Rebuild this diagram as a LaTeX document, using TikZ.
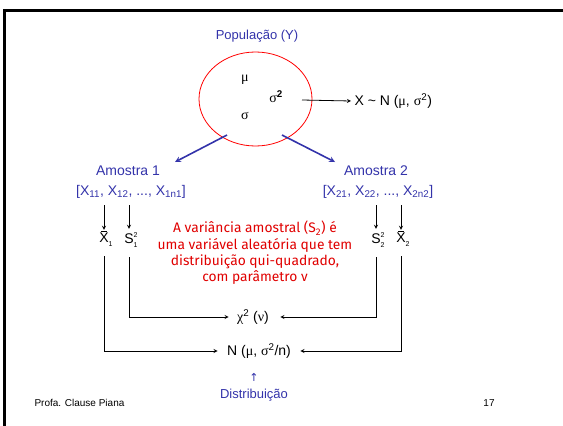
\documentclass[tikz,border=0pt]{standalone}
\usepackage{fontspec}
\setmainfont{Liberation Sans}
\newfontfamily\grk{Liberation Serif}
\newfontfamily\notefont{Fira Sans}
\newfontfamily\symfont{DejaVu Sans}
\usetikzlibrary{arrows,positioning,shapes}

\definecolor{popblue}{RGB}{51,51,170}
\definecolor{notered}{RGB}{224,0,0}

% X with a bar over it
\newcommand{\barX}{\ooalign{X\cr\hidewidth\raisebox{0.8em}{\rule{0.42em}{0.07em}}\hidewidth\cr}}
% stacked super- and subscript
\newcommand{\supsub}[2]{\rlap{\rlap{\raisebox{0.48em}{\scriptsize #1}}\raisebox{-0.26em}{\scriptsize #2}}}
\newcommand{\gk}[1]{{\grk #1}}

\begin{document}
\begin{tikzpicture}[x=1pt, y=-1pt, >=stealth,
    every node/.style={font=\fontsize{14}{16}\selectfont},
    bluetxt/.style={text=popblue},
    smalltxt/.style={font=\fontsize{13}{15}\selectfont},
    flow/.style={->, line width=0.8pt},
    sample/.style={->, line width=1.6pt, popblue}]
    \useasboundingbox (0,0) rectangle (563,426);
    \draw[line width=3pt] (4,426) -- (4,10) -- (563,10);

    % Population
    \node[bluetxt, smalltxt] (poplabel) at (257,36) {População (Y)};
    \node[draw=red, line width=0.8pt, ellipse, minimum width=113pt, minimum height=94pt] (pop) at (255.5,99) {};
    \node (mu) at (245,80) {\gk{μ}};
    \node (sig2) at (276,97) {\gk{σ}\textsuperscript{\textbf{2}}};
    \node (sig) at (245,116) {\gk{σ}};
    \node[anchor=west] (xn) at (351,101) {X \textasciitilde{} N (\gk{μ}, \gk{σ}\textsuperscript{2})};
    \coordinate (popr) at (302,100);
    \draw[flow] (popr) -- (xn.west);

    % Samples
    \node[bluetxt] (am1) at (128,171) {Amostra 1};
    \node[bluetxt] (list1) at (131,192) {[X\textsubscript{11}, X\textsubscript{12}, ..., X\textsubscript{1n1}]};
    \node[bluetxt] (am2) at (376,171) {Amostra 2};
    \node[bluetxt] (list2) at (378,192) {[X\textsubscript{21}, X\textsubscript{22}, ..., X\textsubscript{2n2}]};
    \coordinate (popl) at (227,135);
    \coordinate (popr2) at (282,135);
    \coordinate (am1in) at (175,162);
    \coordinate (am2in) at (335,162);
    \draw[sample] (popl) -- (am1in);
    \draw[sample] (popr2) -- (am2in);

    % Statistics
    \node (xb1) at (104,240) {\barX\rlap{\raisebox{-0.26em}{\scriptsize 1}}};
    \node (s1) at (129,240) {S\supsub{2}{1}};
    \node (s2) at (376,240) {S\supsub{2}{2}};
    \node (xb2) at (401,240) {\barX\rlap{\raisebox{-0.26em}{\scriptsize 2}}};
    \draw[flow, shorten <=3pt] (list1.south -| xb1) -- (xb1.north);
    \draw[flow, shorten <=3pt] (list1.south -| s1) -- (s1.north);
    \draw[flow, shorten <=3pt] (list2.south -| s2) -- (s2.north);
    \draw[flow, shorten <=3pt] (list2.south -| xb2) -- (xb2.north);

    \node[text=notered, align=center, font=\notefont\fontsize{13.8}{16.3}\selectfont] (note) at (255,253)
        {A variância amostral (S\textsubscript{2}) é\\uma variável aleatória que tem\\distribuição qui-quadrado,\\com parâmetro ν};

    % Distributions
    \node (chi) at (253,317) {\gk{χ}\textsuperscript{2} (\gk{ν})};
    \node (norm) at (259,351) {N (\gk{μ}, \gk{σ}\textsuperscript{2}/n)};
    \draw[flow, shorten <=6pt, shorten >=5pt] (s1.south) |- (chi.west);
    \draw[flow, shorten <=6pt, shorten >=8pt] (s2.south) |- (chi.east);
    \draw[flow, shorten <=6pt, shorten >=6pt] (xb1.south) |- (norm.west);
    \draw[flow, shorten <=6pt, shorten >=6pt] (xb2.south) |- (norm.east);

    \node[bluetxt, font=\symfont\fontsize{11}{13}\selectfont] (up) at (254,377) {↑};
    \node[bluetxt, smalltxt] (dist) at (254,395) {Distribuição};

    % Footer
    \node[anchor=west, font=\fontsize{10}{12}\selectfont] (author) at (31,403) {Profa. Clause Piana};
    \node[font=\fontsize{10}{12}\selectfont] (page) at (489,403) {17};
\end{tikzpicture}
\end{document}
